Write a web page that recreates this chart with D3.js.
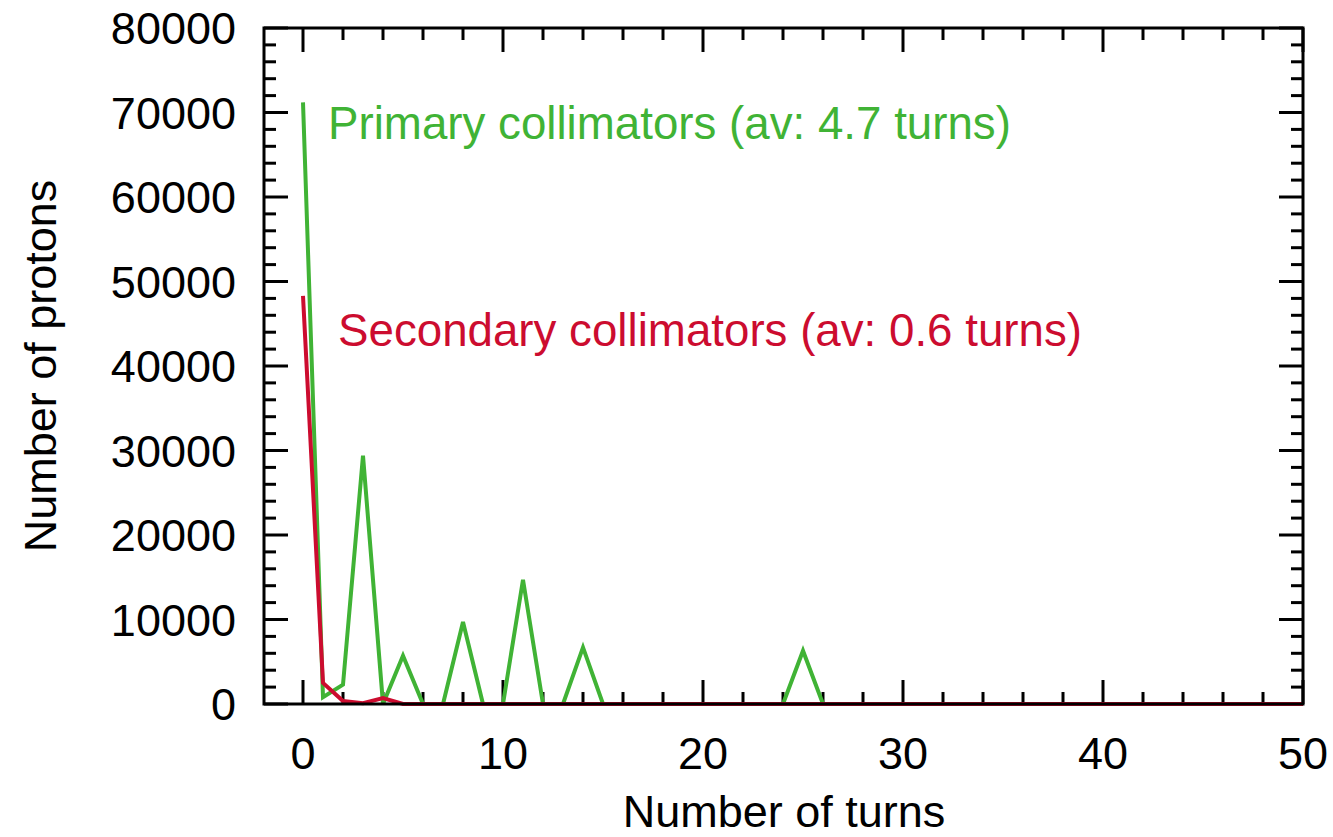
<!DOCTYPE html>
<html>
<head>
<meta charset="utf-8">
<script src="https://cdn.jsdelivr.net/npm/d3@7"></script>
<style>
  body { margin: 0; background: #fff; }
  svg { display: block; font-family: "Liberation Sans", Arial, sans-serif; }
</style>
</head>
<body>
<div id="chart"></div>
<script>
// turns 0..50
const turns = [0,1,2,3,4,5,6,7,8,9,10,11,12,13,14,15,16,17,18,19,20,21,22,23,24,25,
    26,27,28,29,30,31,32,33,34,35,36,37,38,39,40,41,42,43,44,45,46,47,48,49,50];

const primary = [71200, 800, 2300, 29400, 0, 5700, 0, 0, 9700, 0, 0, 14700, 0, 0, 6700, 0,
    0, 0, 0, 0, 0, 0, 0, 0, 0, 6300, 0, 0, 0, 0, 0, 0, 0, 0, 0, 0, 0, 0, 0, 0,
    0, 0, 0, 0, 0, 0, 0, 0, 0, 0, 0];

const secondary = [48300, 2500, 350, 100, 700, 0, 0, 0, 0, 0, 0, 0, 0, 0, 0, 0,
    0, 0, 0, 0, 0, 0, 0, 0, 0, 0, 0, 0, 0, 0, 0, 0, 0, 0, 0, 0, 0, 0, 0, 0,
    0, 0, 0, 0, 0, 0, 0, 0, 0, 0, 0];

const xTicks = [0, 10, 20, 30, 40, 50];
const yTicks = [0, 10000, 20000, 30000, 40000, 50000, 60000, 70000, 80000];

const labels = [
    { text: "Primary collimators (av: 4.7 turns)", turn: 1.25, value: 66900, color: "#40b335" },
    { text: "Secondary collimators (av: 0.6 turns)", turn: 1.75, value: 42400, color: "#cc0c2f" }
];

const margin = { top: 28, right: 30, bottom: 133, left: 264 },
    W = 1333, H = 837,
    width = W - margin.left - margin.right,
    height = H - margin.top - margin.bottom;

const svg = d3.select("#chart").append("svg")
    .attr("width", W)
    .attr("height", H);

const g = svg.append("g")
    .attr("transform", `translate(${margin.left},${margin.top})`);

const x = d3.scaleLinear().domain([-1.95, 50]).range([0, width]);
const y = d3.scaleLinear().domain([0, 80000]).range([height, 0]);

const fs = 45;

// ticks, pointing inward on all four sides
const major = 24, minor = 12;
const xMinor = d3.range(0, 51, 2);
const yMinor = d3.range(0, 80001, 2000);

const tk = g.append("g").attr("stroke", "#000").attr("stroke-width", 3);
xMinor.forEach(t => {
    const len = t % 10 === 0 ? major : minor;
    tk.append("line").attr("x1", x(t)).attr("x2", x(t)).attr("y1", height).attr("y2", height - len);
    tk.append("line").attr("x1", x(t)).attr("x2", x(t)).attr("y1", 0).attr("y2", len);
});
yMinor.forEach(t => {
    const len = t % 10000 === 0 ? major : minor;
    tk.append("line").attr("x1", 0).attr("x2", len).attr("y1", y(t)).attr("y2", y(t));
    tk.append("line").attr("x1", width).attr("x2", width - len).attr("y1", y(t)).attr("y2", y(t));
});

// tick labels
g.append("g").selectAll("text")
    .data(xTicks)
    .join("text")
    .attr("x", d => x(d))
    .attr("y", height + 65)
    .attr("text-anchor", "middle")
    .style("font-size", fs + "px")
    .text(d => d);

g.append("g").selectAll("text")
    .data(yTicks)
    .join("text")
    .attr("x", -28)
    .attr("y", d => y(d))
    .attr("dy", "0.36em")
    .attr("text-anchor", "end")
    .style("font-size", fs + "px")
    .text(d => d);

// axis titles
svg.append("text")
    .attr("x", 784)
    .attr("y", 827)
    .attr("text-anchor", "middle")
    .style("font-size", fs + "px")
    .text("Number of turns");

svg.append("text")
    .attr("transform", `translate(56,${margin.top + height / 2}) rotate(-90)`)
    .attr("text-anchor", "middle")
    .style("font-size", fs + "px")
    .text("Number of protons");

// lines
const line = d3.line()
    .x((d, i) => x(turns[i]))
    .y(d => y(d));

g.append("path")
    .datum(primary)
    .attr("fill", "none")
    .attr("stroke", labels[0].color)
    .attr("stroke-width", 4)
    .attr("d", line);

g.append("path")
    .datum(secondary)
    .attr("fill", "none")
    .attr("stroke", labels[1].color)
    .attr("stroke-width", 4)
    .attr("d", line);

// frame
g.append("rect")
    .attr("width", width)
    .attr("height", height)
    .attr("fill", "none")
    .attr("stroke", "#000")
    .attr("stroke-width", 3);

// annotations
g.append("g").selectAll("text")
    .data(labels)
    .join("text")
    .attr("x", d => x(d.turn))
    .attr("y", d => y(d.value))
    .style("font-size", "45.7px")
    .style("fill", d => d.color)
    .text(d => d.text);
</script>
</body>
</html>
